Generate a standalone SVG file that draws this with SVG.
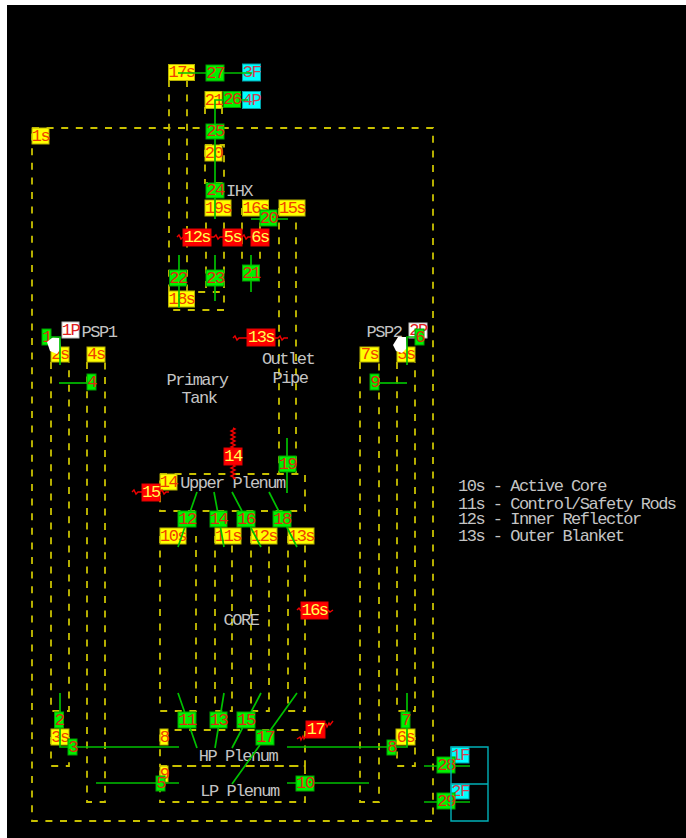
<svg xmlns="http://www.w3.org/2000/svg" width="686" height="838" viewBox="0 0 686 838">
<defs>
<style>
text{font-family:"Liberation Mono","DejaVu Sans Mono",monospace;font-size:17px;letter-spacing:-1.5px;text-anchor:middle;dominant-baseline:central}
.lab{fill:#c4c4c4}
.leg{text-anchor:start}
.d{fill:none;stroke:#c8c000;stroke-width:1.8;stroke-dasharray:7 7.6}
.c{fill:none;stroke:#00c000;stroke-width:1.7}
.z{fill:none;stroke:#f00000;stroke-width:1.4}
.cy{fill:none;stroke:#00b0b8;stroke-width:1.4}
.y rect{fill:#ffff00;stroke:#b8b000}
.y text{fill:#f04000}
.g rect{fill:#00f000;stroke:#00a000}
.g text{fill:#e02810}
.r rect{fill:#ff0000;stroke:#e00000}
.r text{fill:#ffff50}
.b rect{fill:#00ffff;stroke:#00a0a8}
.b text{fill:#d04050}
.w rect{fill:#ffffff;stroke:#c0c0c0}
.w text{fill:#e02020}
</style>
</defs>
<rect x="0" y="0" width="686" height="838" fill="#ffffff"/>
<rect x="7" y="5" width="679" height="833" fill="#000000"/>
<g id="volumes">
<rect class="d" x="32" y="128" width="401" height="693"/>
<path class="d" d="M169 80V292M187 80V292"/>
<rect class="d" x="169" y="292" width="55" height="18"/>
<path class="d" d="M205 107V118M222 107V118"/>
<rect class="d" x="205" y="145" width="19" height="38"/>
<path class="d" d="M206 208V292M224 208V292"/>
<path class="d" d="M242 208V266M260 208V266"/>
<path class="d" d="M279 208V474M296 208V474"/>
<rect class="d" x="160" y="474" width="145" height="37"/>
<path class="d" d="M51 362V711H69V362"/>
<path class="d" d="M87 362V802H105V362"/>
<path class="d" d="M51 737V766H69V737"/>
<path class="d" d="M360 362V802H379V362"/>
<path class="d" d="M397 362V711H415V362"/>
<path class="d" d="M397 737V766H415V737"/>
<path class="d" d="M160 536V711H196V536"/>
<path class="d" d="M215 536V711H232V536"/>
<path class="d" d="M251 536V711H269V536"/>
<path class="d" d="M288 536V711H305V536"/>
<rect class="d" x="160" y="730" width="145" height="36"/>
<rect class="d" x="160" y="766" width="145" height="36"/>
</g>
<g id="n1s" class="y"><rect x="32" y="128" width="17" height="16"/><text x="40.500" y="136">1s</text></g>
<g id="n17s" class="y"><rect x="168.500" y="64.500" width="26" height="16"/><text x="181.500" y="72.500">17s</text></g>
<g id="n27" class="g"><rect x="206" y="65" width="18" height="16"/><text x="215" y="73">27</text></g>
<g id="n3F" class="b"><rect x="242.500" y="64" width="18" height="17"/><text x="251.500" y="72.500">3F</text></g>
<g id="n21y" class="y"><rect x="205" y="91.500" width="17" height="17"/><text x="213.500" y="100">21</text></g>
<g id="n26" class="g"><rect x="223.500" y="91.500" width="17" height="16"/><text x="232" y="99.500">26</text></g>
<g id="n4P" class="b"><rect x="242.500" y="91.500" width="18" height="17"/><text x="251.500" y="100">4P</text></g>
<g id="n25" class="g"><rect x="206" y="124" width="18" height="15"/><text x="215" y="131.500">25</text></g>
<g id="n20y" class="y"><rect x="205" y="145" width="17" height="16"/><text x="213.500" y="153">20</text></g>
<g id="n24" class="g"><rect x="206" y="183" width="18" height="15"/><text x="215" y="190.500">24</text></g>
<text id="ihx" class="lab" x="239" y="191">IHX</text>
<g id="n19s" class="y"><rect x="205" y="200" width="26" height="16"/><text x="218" y="208">19s</text></g>
<g id="n16s" class="y"><rect x="242.500" y="200" width="26" height="16"/><text x="255.500" y="208">16s</text></g>
<g id="n15s" class="y"><rect x="279" y="200" width="26" height="16"/><text x="292" y="208">15s</text></g>
<g id="n20g" class="g"><rect x="260" y="210" width="17" height="16"/><text x="268.500" y="218">20</text></g>
<g id="n12sr" class="r"><rect x="183" y="229" width="28" height="17"/><text x="197" y="237.500">12s</text></g>
<g id="n5s" class="r"><rect x="223" y="229" width="19" height="17"/><text x="232.500" y="237.500">5s</text></g>
<g id="n6s" class="r"><rect x="251" y="229" width="18" height="17"/><text x="260" y="237.500">6s</text></g>
<g id="n22" class="g"><rect x="169.500" y="270" width="17" height="16"/><text x="178" y="278">22</text></g>
<g id="n23" class="g"><rect x="206" y="270" width="18" height="16"/><text x="215" y="278">23</text></g>
<g id="n21g" class="g"><rect x="242.500" y="265" width="17" height="16"/><text x="251" y="273">21</text></g>
<g id="n18s" class="y"><rect x="168.500" y="291" width="26" height="16"/><text x="181.500" y="299">18s</text></g>
<g id="n13r" class="r"><rect x="247" y="329" width="28" height="17"/><text x="261" y="337.500">13s</text></g>
<g id="n1P" class="w"><rect x="62" y="322" width="17" height="16"/><text x="70.500" y="330">1P</text></g>
<text id="psp1" class="lab" x="99" y="332">PSP1</text>
<g id="n2s" class="y"><rect x="51" y="347" width="18" height="15"/><text x="60" y="354.500">2s</text></g>
<g id="n4s" class="y"><rect x="87" y="347" width="18" height="15"/><text x="96" y="354.500">4s</text></g>
<g id="n1" class="g"><rect x="42" y="329" width="9" height="16"/><text x="46.500" y="337">1</text></g>
<g id="n4" class="g"><rect x="87" y="374" width="9" height="16"/><text x="91.500" y="382">4</text></g>
<text id="psp2" class="lab" x="384" y="332">PSP2</text>
<g id="n2P" class="w"><rect x="409" y="323" width="18" height="15"/><text x="418" y="330.500">2P</text></g>
<g id="n7s" class="y"><rect x="360" y="347" width="19" height="15"/><text x="369.500" y="354.500">7s</text></g>
<g id="n5sy" class="y"><rect x="397" y="347" width="18" height="15"/><text x="406" y="354.500">5s</text></g>
<g id="n6" class="g"><rect x="415" y="329" width="9" height="16"/><text x="419.500" y="337">6</text></g>
<g id="n9" class="g"><rect x="370" y="374" width="9" height="16"/><text x="374.500" y="382">9</text></g>
<g id="pumps" fill="#ffffff">
<path d="M47 342L53 337L60 338L61 348L57 354L50 351Z"/>
<path d="M393 345L398 337L406 337L407 348L402 353L396 351Z"/>
</g>
<text id="outlet" class="lab" x="288" y="359">Outlet</text>
<text id="pipe" class="lab" x="290" y="378">Pipe</text>
<text id="primary" class="lab" x="197" y="380">Primary</text>
<text id="tank" class="lab" x="199" y="398">Tank</text>
<g id="n14r" class="r"><rect x="224" y="448" width="18" height="17"/><text x="233" y="456.500">14</text></g>
<g id="n19" class="g"><rect x="279" y="456" width="17" height="16"/><text x="287.500" y="464">19</text></g>
<g id="n14y" class="y"><rect x="160" y="474" width="17" height="16"/><text x="168.500" y="482">14</text></g>
<g id="n15r" class="r"><rect x="142" y="484" width="18" height="17"/><text x="151" y="492.500">15</text></g>
<text id="upper" class="lab" x="232.500" y="483">Upper Plenum</text>
<g id="n12" class="g"><rect x="178" y="511" width="18" height="16"/><text x="187" y="519">12</text></g>
<g id="n14" class="g"><rect x="210" y="511" width="17" height="16"/><text x="218.500" y="519">14</text></g>
<g id="n16" class="g"><rect x="237" y="511" width="18" height="16"/><text x="246" y="519">16</text></g>
<g id="n18" class="g"><rect x="273" y="511" width="18" height="16"/><text x="282" y="519">18</text></g>
<g id="n10s" class="y"><rect x="160" y="528" width="26" height="16"/><text x="173" y="536">10s</text></g>
<g id="n11s" class="y"><rect x="215" y="528" width="26" height="16"/><text x="228" y="536">11s</text></g>
<g id="n12s" class="y"><rect x="251" y="528" width="26" height="16"/><text x="264" y="536">12s</text></g>
<g id="n13s" class="y"><rect x="288" y="528" width="26" height="16"/><text x="301" y="536">13s</text></g>
<g id="n16sr" class="r"><rect x="301" y="602" width="27" height="17"/><text x="314.500" y="610.500">16s</text></g>
<text id="core" class="lab" x="241" y="620">CORE</text>
<g id="n2" class="g"><rect x="54.500" y="712" width="9" height="16"/><text x="59" y="720">2</text></g>
<g id="n3s" class="y"><rect x="51" y="729" width="18" height="16"/><text x="60" y="737">3s</text></g>
<g id="n3" class="g"><rect x="68" y="739" width="9" height="16"/><text x="72.500" y="747">3</text></g>
<g id="n7" class="g"><rect x="401" y="712" width="9" height="16"/><text x="405.500" y="720">7</text></g>
<g id="n6sy" class="y"><rect x="396" y="729" width="19" height="16"/><text x="405.500" y="737">6s</text></g>
<g id="n8g" class="g"><rect x="387" y="740" width="9" height="15"/><text x="391.500" y="747.500">8</text></g>
<g id="n11" class="g"><rect x="178" y="712" width="18" height="16"/><text x="187" y="720">11</text></g>
<g id="n13" class="g"><rect x="210" y="712" width="17" height="16"/><text x="218.500" y="720">13</text></g>
<g id="n15" class="g"><rect x="237" y="712" width="18" height="16"/><text x="246" y="720">15</text></g>
<g id="n17" class="g"><rect x="256" y="730" width="18" height="15"/><text x="265" y="737.500">17</text></g>
<g id="n17r" class="r"><rect x="306" y="721" width="19" height="17"/><text x="315.500" y="729.500">17</text></g>
<g id="n8y" class="y"><rect x="160" y="729" width="8" height="16"/><text x="164" y="737">8</text></g>
<g id="n9y" class="y"><rect x="160" y="766" width="8" height="16"/><text x="164" y="774">9</text></g>
<g id="n5" class="g"><rect x="156" y="776" width="9" height="15"/><text x="160.500" y="783.500">5</text></g>
<g id="n10" class="g"><rect x="296" y="776" width="18" height="15"/><text x="305" y="783.500">10</text></g>
<text id="hp" class="lab" x="238" y="756">HP Plenum</text>
<text id="lp" class="lab" x="239.500" y="791">LP Plenum</text>
<g id="n1F" class="b"><rect x="451" y="747" width="18" height="16"/><text x="460" y="755">1F</text></g>
<g id="n2F" class="b"><rect x="451" y="784" width="18" height="15"/><text x="460" y="791.500">2F</text></g>
<g id="n28" class="g"><rect x="437" y="757" width="18" height="16"/><text x="446" y="765">28</text></g>
<g id="n29" class="g"><rect x="437" y="793" width="18" height="16"/><text x="446" y="801">29</text></g>
<g id="legend">
<text class="lab leg" x="458" y="486">10s - Active Core</text>
<text class="lab leg" x="458" y="504">11s - Control/Safety Rods</text>
<text class="lab leg" x="458" y="519">12s - Inner Reflector</text>
<text class="lab leg" x="458" y="536">13s - Outer Blanket</text>
</g>
<g id="connectors">
<path class="c" d="M178 73H206M224 73H252"/>
<path class="c" d="M248 100H241M223 100H215V124M215 139V183M215 198V219"/>
<path class="c" d="M251 219H260M277 219H288"/>
<path class="c" d="M179 255V270M179 286V308"/>
<path class="c" d="M215 255V270M215 286V301"/>
<path class="c" d="M251 255V265M251 281V292"/>
<path class="c" d="M51 337H60V365"/>
<path class="c" d="M59 383H87"/>
<path class="c" d="M415 337H407V365"/>
<path class="c" d="M379 383H407"/>
<path class="c" d="M287 438V456M287 472V493"/>
<path class="c" d="M197 492L190.400 511M184.900 527L178 547"/>
<path class="c" d="M214 492L217.500 511M220.400 527L224 547"/>
<path class="c" d="M232 492L242 511M250.500 527L261 547"/>
<path class="c" d="M269 492L278.700 511M286.800 527L297 547"/>
<path class="c" d="M60 693V712M60 728V747H68M77 747H179"/>
<path class="c" d="M96 783H156M165 783H179"/>
<path class="c" d="M178 693L184.600 712M190.100 728L197 748"/>
<path class="c" d="M224 693L220.900 712M218.300 728L215 748"/>
<path class="c" d="M261 693L251 712M242.500 728L232 748"/>
<path class="c" d="M297 693L270.600 730M259.900 745L232 784"/>
<path class="c" d="M287 747H387M396 747H407V728M407 712V693"/>
<path class="c" d="M287 783H296M314 783H369"/>
<path class="c" d="M424 766H437M455 766H470"/>
<path class="c" d="M424 802H437M455 802H470"/>
<path class="z" d="M177 237l2-2l2 4l2-2M211 237h3l2-2l2 4l2-2l3 0M242 237l2-2l2 4l2-2h3"/>
<path class="z" d="M233 428l2 1l-4 2l4 2l-4 2l4 2l-4 2l4 2l-4 2l4 2l-4 2l4 2l-4 2l4 2l-2 1V448M233 465l2 1l-4 2l4 2l-4 2l4 2l-4 2l4 2l-2 1"/>
<path class="z" d="M132 492l2-2l2 4l2-2l4 0M160 492l2-2l2 4l2-2h3"/>
<path class="z" d="M297 610l2-2l2 3M328 610l2 2l3-2"/>
<path class="z" d="M297 739l3-2l1 3l2-4l1 3l2-3M325 725l1-1l1 3l2-4l1 2l3-4"/>
<path class="z" d="M233 338l2-2l2 4l2-2l2 0h6M275 338h3l2-2l2 4l2-2l4 0"/>
<path class="cy" d="M451 747H488V821H451ZM451 784H488"/>
</g>
</svg>
